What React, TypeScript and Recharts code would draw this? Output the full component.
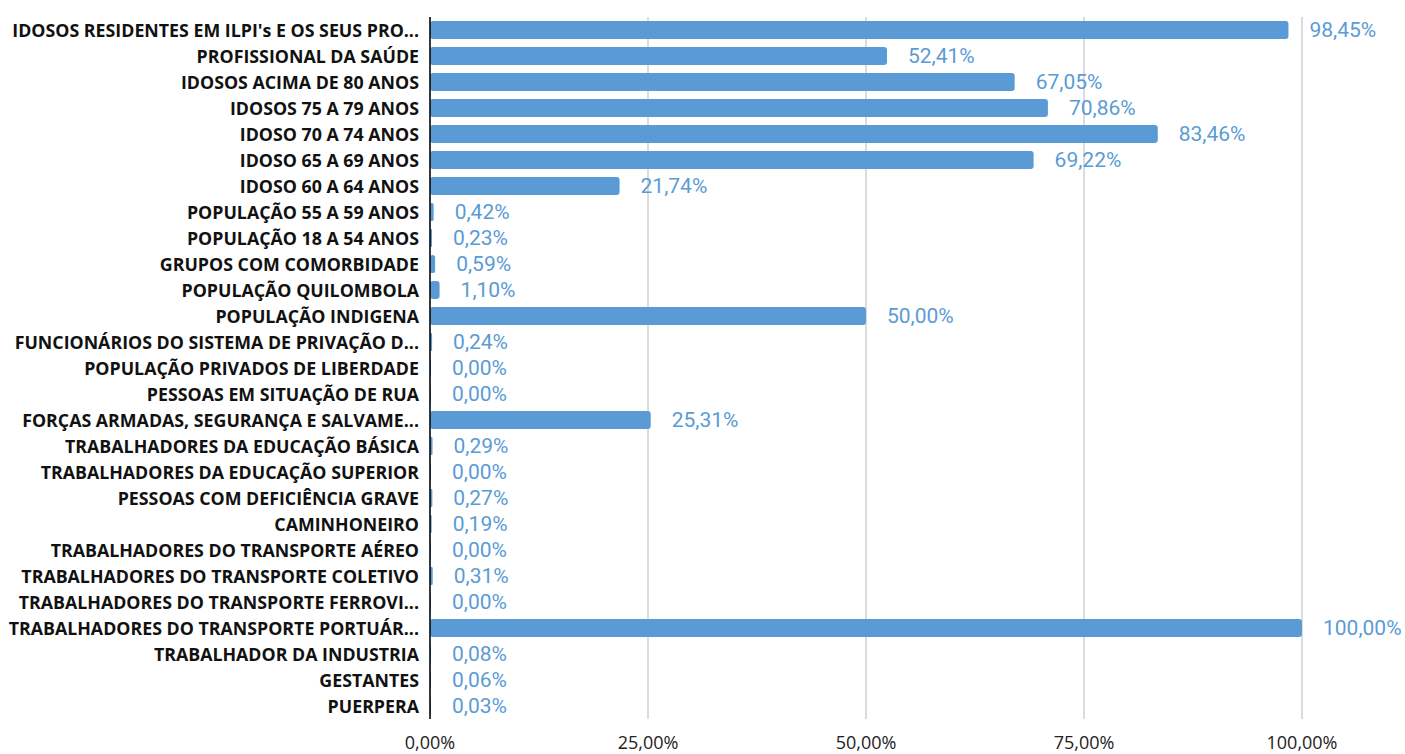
import React from 'react';
import { BarChart, Bar, XAxis, YAxis, CartesianGrid, LabelList } from 'recharts';

const categories = [
  "IDOSOS RESIDENTES EM ILPI's E OS SEUS PRO...",
  'PROFISSIONAL DA SAÚDE',
  'IDOSOS ACIMA DE 80 ANOS',
  'IDOSOS 75 A 79 ANOS',
  'IDOSO 70 A 74 ANOS',
  'IDOSO 65 A 69 ANOS',
  'IDOSO 60 A 64 ANOS',
  'POPULAÇÃO 55 A 59 ANOS',
  'POPULAÇÃO 18 A 54 ANOS',
  'GRUPOS COM COMORBIDADE',
  'POPULAÇÃO QUILOMBOLA',
  'POPULAÇÃO INDIGENA',
  'FUNCIONÁRIOS DO SISTEMA DE PRIVAÇÃO D...',
  'POPULAÇÃO PRIVADOS DE LIBERDADE',
  'PESSOAS EM SITUAÇÃO DE RUA',
  'FORÇAS ARMADAS, SEGURANÇA E SALVAME...',
  'TRABALHADORES DA EDUCAÇÃO BÁSICA',
  'TRABALHADORES DA EDUCAÇÃO SUPERIOR',
  'PESSOAS COM DEFICIÊNCIA GRAVE',
  'CAMINHONEIRO',
  'TRABALHADORES DO TRANSPORTE AÉREO',
  'TRABALHADORES DO TRANSPORTE COLETIVO',
  'TRABALHADORES DO TRANSPORTE FERROVI...',
  'TRABALHADORES DO TRANSPORTE PORTUÁR...',
  'TRABALHADOR DA INDUSTRIA',
  'GESTANTES',
  'PUERPERA',
];

const percentages = [
  98.45, 52.41, 67.05, 70.86, 83.46, 69.22, 21.74, 0.42, 0.23, 0.59, 1.1, 50.0, 0.24, 0.0, 0.0,
  25.31, 0.29, 0.0, 0.27, 0.19, 0.0, 0.31, 0.0, 100.0, 0.08, 0.06, 0.03,
];

const xTicks = [0, 25, 50, 75, 100];

const data = categories.map((name, i) => ({ name, value: percentages[i] }));

const fmt = (v: number) => v.toFixed(2).replace('.', ',') + '%';

const BAR_COLOR = '#5b9bd5';

const YTick = (props: any) => {
  const { x, y, payload } = props;
  return (
    <text
      x={x}
      y={y}
      textAnchor="end"
      dominantBaseline="central"
      fontFamily="'Open Sans', sans-serif"
      fontWeight={700}
      fontSize={17.8}
      fill="#111"
    >
      {payload.value}
    </text>
  );
};

const XTick = (props: any) => {
  const { x, y, payload } = props;
  return (
    <text
      x={x}
      y={y}
      textAnchor="middle"
      dominantBaseline="central"
      fontFamily="'Open Sans', sans-serif"
      fontSize={18}
      fill="#222"
    >
      {fmt(payload.value)}
    </text>
  );
};

const ValueLabel = (props: any) => {
  const { x, y, width, height, value } = props;
  return (
    <text
      x={Number(x) + Number(width) + 21}
      y={Number(y) + Number(height) / 2}
      dominantBaseline="central"
      textAnchor="start"
      fontFamily="Roboto, sans-serif"
      fontSize={21}
      fill={BAR_COLOR}
    >
      {fmt(Number(value))}
    </text>
  );
};

export default function App() {
  return (
    <div style={{ position: 'absolute', left: 0, top: 0, background: '#fff' }}>
      <BarChart
        width={1405}
        height={754}
        data={data}
        layout="vertical"
        margin={{ top: 17, right: 103, bottom: 0, left: 0 }}
      >
        <CartesianGrid horizontal={false} stroke="#d0d0d0" strokeWidth={1.5} />
        <XAxis
          type="number"
          domain={[0, 100]}
          ticks={xTicks}
          axisLine={false}
          tickLine={false}
          height={35}
          tickSize={0}
          tickMargin={23}
          tick={<XTick />}
          interval={0}
        />
        <YAxis
          type="category"
          dataKey="name"
          width={430}
          interval={0}
          tickLine={false}
          tickSize={0}
          tickMargin={11}
          axisLine={{ stroke: '#000', strokeWidth: 1.5 }}
          tick={<YTick />}
        />
        <Bar
          dataKey="value"
          fill={BAR_COLOR}
          barSize={18}
          radius={3}
          minPointSize={1}
          isAnimationActive={false}
        >
          <LabelList dataKey="value" content={<ValueLabel />} />
        </Bar>
      </BarChart>
    </div>
  );
}
